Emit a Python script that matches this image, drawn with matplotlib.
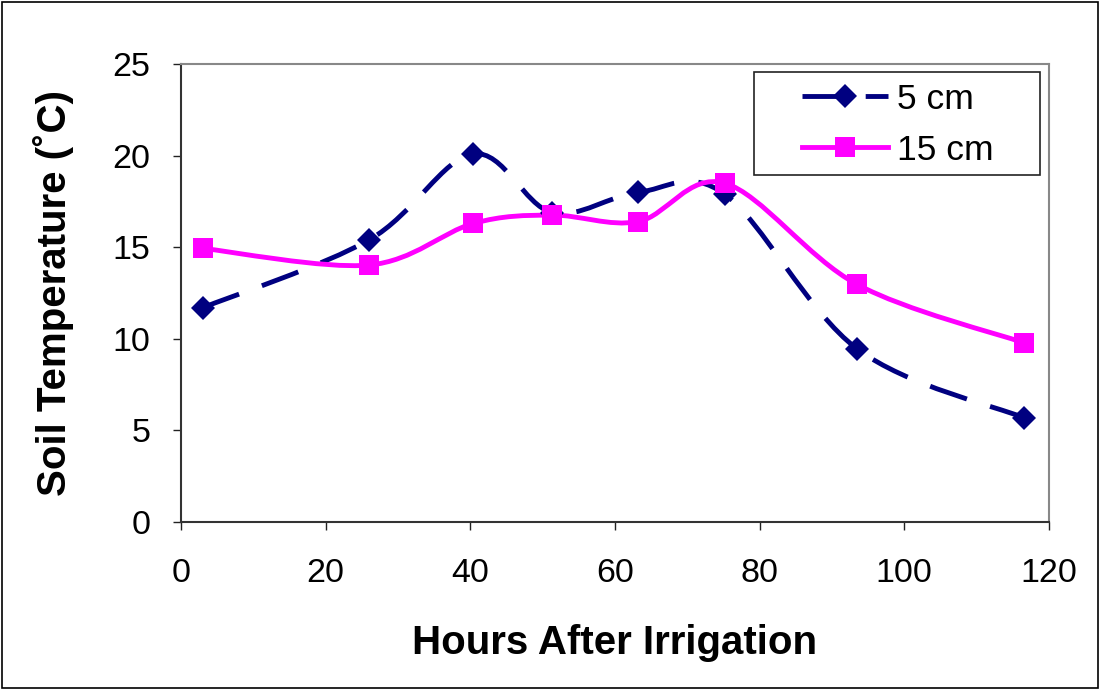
import numpy as np
import matplotlib.pyplot as plt
from matplotlib.path import Path
from matplotlib.patches import PathPatch, Rectangle
from matplotlib.lines import Line2D

plt.rcParams['font.family'] = ['Liberation Sans', 'DejaVu Sans']

hours = [3.0, 26.0, 40.4, 51.3, 63.2, 75.2, 93.5, 116.5]
temp_5cm = [11.7, 15.4, 20.1, 16.9, 18.0, 17.9, 9.45, 5.7]
temp_15cm = [14.94, 14.03, 16.3, 16.76, 16.4, 18.5, 12.97, 9.79]
labels = ['5 cm', '15 cm']
colors = ['#000080', '#FF00FF']


def smooth_path(x, y):
    # excel-style smoothed line: bezier segments through every point
    pts = np.column_stack([x, y])
    n = len(pts)
    verts = [pts[0]]
    codes = [Path.MOVETO]
    for i in range(n - 1):
        p_prev = pts[max(i - 1, 0)]
        p0 = pts[i]
        p1 = pts[i + 1]
        p_next = pts[min(i + 2, n - 1)]
        c1 = p0 + (p1 - p_prev) / 6.0
        c2 = p1 - (p_next - p0) / 6.0
        verts += [c1, c2, p1]
        codes += [Path.CURVE4] * 3
    return Path(verts, codes)


fig = plt.figure(figsize=(11, 6.9), dpi=100)
ax = fig.add_axes([0.1645, 0.2435, 0.789, 0.6635])

lw = 3.5
p1 = PathPatch(smooth_path(hours, temp_5cm), facecolor='none', edgecolor=colors[0],
               lw=lw, linestyle=(0, (8, 5)), capstyle='butt', zorder=2)
p2 = PathPatch(smooth_path(hours, temp_15cm), facecolor='none', edgecolor=colors[1],
               lw=lw, zorder=3)
ax.add_patch(p1)
ax.add_patch(p2)
ax.plot(hours, temp_5cm, linestyle='none', marker='D', ms=12.5, color=colors[0],
        mew=0, zorder=4)
ax.plot(hours, temp_15cm, linestyle='none', marker='s', ms=15, color=colors[1],
        mew=0, zorder=5)

ax.set_xlim(0, 120)
ax.set_ylim(0, 25)
ax.set_xticks(range(0, 121, 20))
ax.set_yticks(range(0, 26, 5))
ax.tick_params(direction='out', length=6, width=1, labelsize=24.5, colors='#222222',
               labelcolor='black')
ax.tick_params(axis='x', pad=20)
ax.tick_params(axis='y', pad=16)
for s in ['top', 'right']:
    ax.spines[s].set_color('#888888')
    ax.spines[s].set_linewidth(1.5)
for s in ['left', 'bottom']:
    ax.spines[s].set_color('#333333')
    ax.spines[s].set_linewidth(1.5)

ax.set_xlabel('Hours After Irrigation', fontsize=29, fontweight='bold', labelpad=25)
ax.set_ylabel('Soil Temperature (˚C)', fontsize=29, fontweight='bold', labelpad=28)

handles = [
    Line2D([], [], color=colors[0], lw=lw, linestyle=(0, (8, 5)), marker='D', ms=12.5, mew=0),
    Line2D([], [], color=colors[1], lw=lw, marker='s', ms=15, mew=0),
]
leg = ax.legend(handles, labels, loc='upper left', bbox_to_anchor=(0.703, 0.9825),
                fontsize=25.5, frameon=False, handlelength=2.45, borderpad=0.3,
                labelspacing=0.5, handletextpad=0.25, borderaxespad=0)
ax.add_patch(Rectangle((0.660, 0.7576), 0.3296, 0.2249, transform=ax.transAxes,
                       fill=False, edgecolor='#222222', lw=1.2, zorder=6))

fig.patches.append(Rectangle((0.002, 0.003), 0.996, 0.994, transform=fig.transFigure,
                             fill=False, edgecolor='black', lw=1.2))

fig.savefig('out.png', dpi=100)
